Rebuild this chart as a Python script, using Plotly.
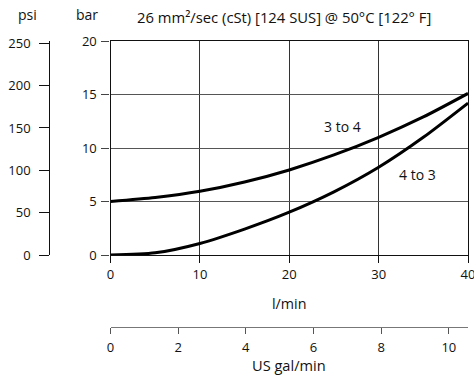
import plotly.graph_objects as go

# ---- data ----
flow_lpm = [0, 5, 10, 15, 20, 25, 30, 35, 40]                      # l/min
press_3to4 = [5.0, 5.37, 5.95, 6.82, 7.95, 9.35, 11.0, 12.9, 15.1]  # bar
press_4to3 = [0.0, 0.2, 1.08, 2.42, 4.0, 5.9, 8.2, 11.0, 14.2]      # bar

bar_ticks = [0, 5, 10, 15, 20]
psi_ticks = [0, 50, 100, 150, 200, 250]
lpm_ticks = [0, 10, 20, 30, 40]
gal_ticks = [0, 2, 4, 6, 8, 10]

curve_labels = ["3 to 4", "4 to 3"]
label_pos = [(26.0, 12.0), (34.4, 7.55)]

title_text = "26 mm²/sec (cSt) [124 SUS] @ 50°C [122° F]"

W, H = 474, 376
FONT = "Open Sans"
FS = 13
FS_T = 14

def fx(px):
    return px / W

def fy(py):
    return (H - py) / H

# plot area in pixels
X0, X1 = 110.5, 468.0
Y0, Y1 = 255.0, 41.0

fig = go.Figure()
for series in (press_3to4, press_4to3):
    fig.add_trace(go.Scatter(x=flow_lpm, y=series, mode="lines",
                             line=dict(color="black", width=3, shape="spline", smoothing=0.7),
                             showlegend=False, hoverinfo="skip"))

# psi scale: 0 at y=255, 250 at y=43.3
psi_top = 250 * (Y0 - Y1) / (Y0 - 43.3)
gal_max = 40 / 3.785411784

fig.update_layout(
    width=W, height=H,
    margin=dict(l=0, r=0, t=0, b=0, pad=0, autoexpand=False),
    paper_bgcolor="white", plot_bgcolor="white",
    font=dict(family=FONT, size=FS, color="#111"),
    showlegend=False,
    xaxis=dict(domain=[fx(X0), fx(X1)], range=[0, 40], tickvals=lpm_ticks,
               showgrid=True, gridcolor="#333", gridwidth=1,
               showline=True, linecolor="#111", linewidth=1.3, mirror=True,
               ticks="outside", ticklen=7, tickcolor="#111", zeroline=False,
               ticklabeloverflow="allow", automargin=False, fixedrange=True),
    yaxis=dict(domain=[fy(Y0), fy(Y1)], range=[0, 20], tickvals=bar_ticks,
               showgrid=True, gridcolor="#555", gridwidth=1,
               showline=True, linecolor="#111", linewidth=1.3, mirror=True,
               ticks="outside", ticklen=8, tickcolor="#444", zeroline=False,
               ticklabelstandoff=2, automargin=False, fixedrange=True),
    yaxis2=dict(overlaying="y", anchor="free", position=fx(49.3), side="left",
                range=[0, psi_top], tickvals=psi_ticks,
                showgrid=False, showline=True, linecolor="#111", linewidth=1.2,
                ticks="outside", ticklen=10, tickcolor="#111", zeroline=False,
                ticklabelstandoff=6, automargin=False, fixedrange=True),
    xaxis2=dict(overlaying="x", anchor="free", position=fy(327.3), side="bottom",
                range=[0, gal_max], tickvals=gal_ticks,
                showgrid=False, showline=True, linecolor="#777", linewidth=1.3,
                ticks="outside", ticklen=6, tickcolor="#555", zeroline=False,
                ticklabelstandoff=2, automargin=False, fixedrange=True),
)

# invisible traces to bind the secondary axes
fig.add_trace(go.Scatter(x=[0], y=[0], yaxis="y2", mode="markers",
                         marker=dict(opacity=0), showlegend=False, hoverinfo="skip"))
fig.add_trace(go.Scatter(x=[0], y=[0], xaxis="x2", mode="markers",
                         marker=dict(opacity=0), showlegend=False, hoverinfo="skip"))

for txt, (lx, ly) in zip(curve_labels, label_pos):
    fig.add_annotation(x=lx, y=ly, xref="x", yref="y", text=txt, showarrow=False,
                       font=dict(size=FS_T, family=FONT, color="#111"),
                       xanchor="center", yanchor="middle")

def paper_text(txt, px, py, size=FS_T):
    fig.add_annotation(x=fx(px), y=fy(py), xref="paper", yref="paper", text=txt,
                       showarrow=False, font=dict(size=size, family=FONT, color="#111"),
                       xanchor="center", yanchor="middle")

paper_text(title_text, 283.5, 17, 14.8)
paper_text("psi", 27, 15)
paper_text("bar", 87, 15)
paper_text("l/min", 289, 303, 14.3)
paper_text("US gal/min", 289, 365, 14.6)

fig.write_html("out.html", config={"displayModeBar": False},
               post_script="document.body.style.margin='0';document.body.style.overflow='hidden';")
